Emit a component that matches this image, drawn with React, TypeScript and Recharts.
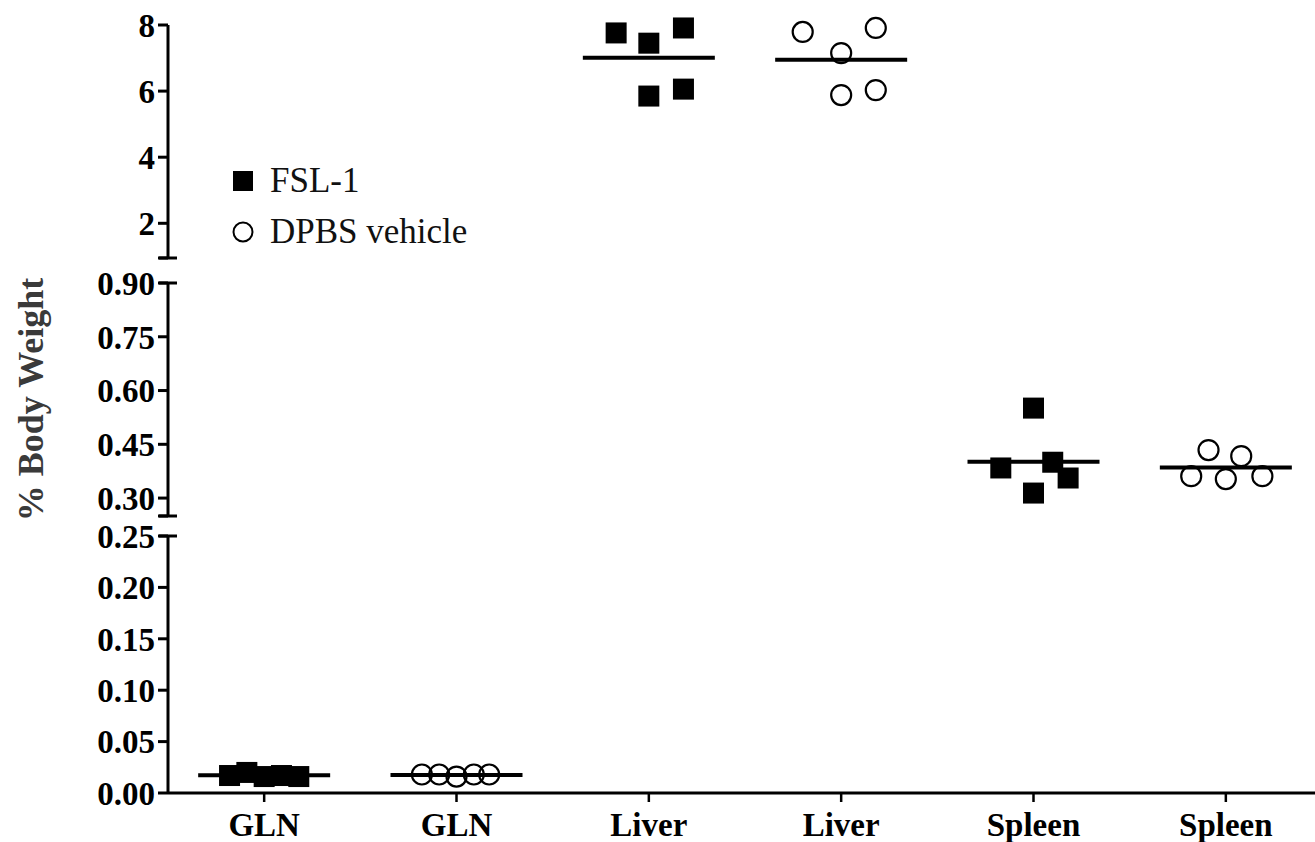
import React from "react";
import { ScatterChart, Scatter, XAxis, YAxis, Legend } from "recharts";

const CATEGORIES: string[] = ["GLN", "GLN", "Liver", "Liver", "Spleen", "Spleen"];

// % body weight per animal, FSL-1 (filled squares) and DPBS vehicle (open circles)
const GLN_FSL = [0.017, 0.02, 0.016, 0.017, 0.016];
const GLN_DPBS = [0.018, 0.018, 0.016, 0.018, 0.018];
const LIVER_FSL = [7.76, 7.45, 7.91, 5.85, 6.06];
const LIVER_DPBS = [7.79, 7.91, 7.15, 5.88, 6.03];
const SPLEEN_FSL = [0.551, 0.384, 0.4, 0.356, 0.314];
const SPLEEN_DPBS = [0.434, 0.417, 0.361, 0.353, 0.361];

// sideways spread of the dots inside one column (category units)
const GLN_FSL_DX = [-0.18, -0.09, 0, 0.09, 0.18];
const GLN_DPBS_DX = [-0.18, -0.09, 0, 0.09, 0.17];
const LIVER_FSL_DX = [-0.17, 0, 0.18, 0, 0.18];
const LIVER_DPBS_DX = [-0.2, 0.18, 0, 0, 0.18];
const SPLEEN_FSL_DX = [0, -0.17, 0.1, 0.18, 0];
const SPLEEN_DPBS_DX = [-0.09, 0.08, -0.18, 0, 0.19];

// broken y axis: three segments
const TOP_TICKS = [0.95, 2, 4, 6, 8];
const MID_TICKS = [0.25, 0.3, 0.45, 0.6, 0.75, 0.9];
const LOW_TICKS = [0, 0.05, 0.1, 0.15, 0.2, 0.25];

const LEGEND_ORDER = ["FSL-1", "DPBS vehicle"];

const SERIF = '"Liberation Serif", "Times New Roman", serif';
const TICK_SIZE = 10;
const TICK_MARGIN = 3;
const AXIS_W = 168;
const CHART_W = 1322;

type Pt = { x: number; y: number };

const points = (col: number, values: number[], dx: number[]): Pt[] =>
  values.map((v, i) => ({ x: col + dx[i], y: v }));

const mean = (col: number, values: number[]): Pt => ({
  x: col,
  y: values.reduce((a, b) => a + b, 0) / values.length,
});

const SquareDot = (p: any) => (
  <rect x={p.cx - 10.5} y={p.cy - 10.5} width={21} height={21} fill="#000" />
);

const CircleDot = (p: any) => (
  <circle cx={p.cx} cy={p.cy} r={10} fill="none" stroke="#000" strokeWidth={2.2} />
);

const MeanBar = (p: any) => (
  <line x1={p.cx - 66} x2={p.cx + 66} y1={p.cy} y2={p.cy} stroke="#000" strokeWidth={4} />
);

const YTick = (props: any) => {
  const { x, y, payload, caps, labelled, fmt } = props;
  const axisX = x + TICK_SIZE + TICK_MARGIN;
  const v = payload.value;
  return (
    <g>
      {caps.includes(v) && (
        <line x1={axisX - 9} x2={axisX + 9} y1={y} y2={y} stroke="#000" strokeWidth={3} />
      )}
      {labelled.includes(v) && (
        <text
          x={x}
          y={y}
          dy="0.36em"
          textAnchor="end"
          fontFamily={SERIF}
          fontWeight="bold"
          fontSize={33}
          fill="#000"
        >
          {fmt(v)}
        </text>
      )}
    </g>
  );
};

const YLabel = (props: any) => {
  const vb = props.viewBox ?? { x: 0, y: 20, width: AXIS_W, height: 233 };
  const cx = vb.x + 31;
  const cy = vb.y + vb.height / 2;
  return (
    <text
      x={cx}
      y={cy}
      transform={`rotate(-90, ${cx}, ${cy})`}
      textAnchor="middle"
      dominantBaseline="central"
      fontFamily={SERIF}
      fontWeight="bold"
      fontSize={36}
      fill="#3a3a3a"
    >
      % Body Weight
    </text>
  );
};

type LegendEntry = { value?: string };

const GroupLegend = ({ payload }: { payload?: readonly LegendEntry[] }) => {
  const items = LEGEND_ORDER.filter((name) => (payload ?? []).some((e) => e.value === name));
  return (
    <div style={{ fontFamily: SERIF, fontSize: 35, color: "#111" }}>
      {items.map((name) => (
        <div key={name} style={{ display: "flex", alignItems: "center", height: 51 }}>
          <svg width={24} height={24}>
            {name === "FSL-1" ? (
              <rect x={2} y={2} width={20} height={20} fill="#000" />
            ) : (
              <circle cx={12} cy={12} r={9.5} fill="none" stroke="#000" strokeWidth={2} />
            )}
          </svg>
          <span style={{ marginLeft: 15 }}>{name}</span>
        </div>
      ))}
    </div>
  );
};

type PanelProps = {
  top: number;
  height: number;
  margin: { top: number; bottom: number };
  domain: [number, number];
  ticks: number[];
  caps: number[];
  labelled: number[];
  fmt: (v: number) => string;
  fsl: Pt[];
  dpbs: Pt[];
  means: Pt[];
  showX?: boolean;
  showLegend?: boolean;
  showLabel?: boolean;
};

const Panel = (p: PanelProps) => (
  <div style={{ position: "absolute", left: 0, top: p.top }}>
    <ScatterChart
      width={CHART_W}
      height={p.height}
      margin={{ top: p.margin.top, right: 0, bottom: p.margin.bottom, left: 0 }}
    >
      <XAxis
        type="number"
        dataKey="x"
        domain={[-0.5, 5.5]}
        ticks={[0, 1, 2, 3, 4, 5]}
        hide={!p.showX}
        height={49}
        tickFormatter={(v: number) => CATEGORIES[v]}
        axisLine={{ stroke: "#000", strokeWidth: 3 }}
        tickLine={{ stroke: "#000", strokeWidth: 2.5 }}
        tickSize={9}
        tickMargin={11}
        tick={{ fill: "#000", fontSize: 33, fontWeight: 700, fontFamily: SERIF }}
      />
      <YAxis
        type="number"
        dataKey="y"
        domain={p.domain}
        ticks={p.ticks}
        interval={0}
        width={AXIS_W}
        axisLine={{ stroke: "#000", strokeWidth: 3 }}
        tickLine={{ stroke: "#000", strokeWidth: 3 }}
        tickSize={TICK_SIZE}
        tickMargin={TICK_MARGIN}
        tick={(t: any) => <YTick {...t} caps={p.caps} labelled={p.labelled} fmt={p.fmt} />}
        label={p.showLabel ? <YLabel /> : undefined}
      />
      <Scatter name="FSL-1" data={p.fsl} shape={SquareDot} isAnimationActive={false} />
      <Scatter name="DPBS vehicle" data={p.dpbs} shape={CircleDot} isAnimationActive={false} />
      <Scatter name="mean" data={p.means} shape={MeanBar} legendType="none" isAnimationActive={false} />
      {p.showLegend && (
        <Legend
          layout="vertical"
          align="center"
          verticalAlign="middle"
          content={<GroupLegend />}
          wrapperStyle={{ left: 231, top: 155, width: "auto" }}
        />
      )}
    </ScatterChart>
  </div>
);

const App: React.FC = () => {
  const intFmt = (v: number) => String(v);
  const decFmt = (v: number) => v.toFixed(2);
  return (
    <div
      style={{
        position: "absolute",
        left: 0,
        top: 0,
        width: 1315,
        height: 842,
        overflow: "hidden",
        background: "#fff",
      }}
    >
      <Panel
        top={0}
        height={270}
        margin={{ top: 25, bottom: 12 }}
        domain={[0.95, 8]}
        ticks={TOP_TICKS}
        caps={[0.95]}
        labelled={[2, 4, 6, 8]}
        fmt={intFmt}
        fsl={points(2, LIVER_FSL, LIVER_FSL_DX)}
        dpbs={points(3, LIVER_DPBS, LIVER_DPBS_DX)}
        means={[mean(2, LIVER_FSL), mean(3, LIVER_DPBS)]}
        showLegend
      />
      <Panel
        top={263}
        height={270}
        margin={{ top: 20, bottom: 17 }}
        domain={[0.25, 0.9]}
        ticks={MID_TICKS}
        caps={[0.25, 0.9]}
        labelled={[0.3, 0.45, 0.6, 0.75, 0.9]}
        fmt={decFmt}
        fsl={points(4, SPLEEN_FSL, SPLEEN_FSL_DX)}
        dpbs={points(5, SPLEEN_DPBS, SPLEEN_DPBS_DX)}
        means={[mean(4, SPLEEN_FSL), mean(5, SPLEEN_DPBS)]}
        showLabel
      />
      <Panel
        top={516}
        height={326}
        margin={{ top: 20, bottom: 0 }}
        domain={[0, 0.25]}
        ticks={LOW_TICKS}
        caps={[0.25]}
        labelled={LOW_TICKS}
        fmt={decFmt}
        fsl={points(0, GLN_FSL, GLN_FSL_DX)}
        dpbs={points(1, GLN_DPBS, GLN_DPBS_DX)}
        means={[mean(0, GLN_FSL), mean(1, GLN_DPBS)]}
        showX
      />
    </div>
  );
};

export default App;
